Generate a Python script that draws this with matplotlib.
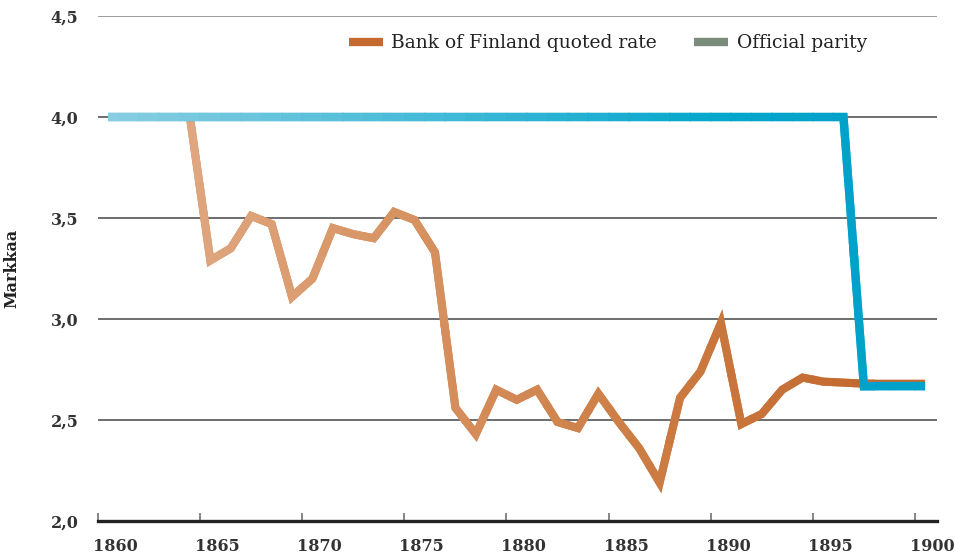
import numpy as np
import matplotlib
matplotlib.use("Agg")
import matplotlib.pyplot as plt
from matplotlib.collections import LineCollection
from matplotlib.lines import Line2D
from matplotlib.colors import to_rgb
from matplotlib.transforms import ScaledTranslation

# data (markkaa)
quoted_years = list(range(1864, 1901))
quoted_rate = [4.00, 3.29, 3.35, 3.51, 3.47, 3.11, 3.20, 3.45, 3.42, 3.40,
               3.53, 3.49, 3.33, 2.56, 2.43, 2.65, 2.60, 2.65, 2.49, 2.46,
               2.63, 2.49, 2.36, 2.19, 2.61, 2.74, 2.98, 2.48, 2.53, 2.65,
               2.71, 2.69, 2.685, 2.68, 2.68, 2.68, 2.68]

parity_years = list(range(1860, 1901))
parity = [4.0] * 37 + [2.667] * 4

x_ticks = list(range(1860, 1901, 5))
y_ticks = [2.0, 2.5, 3.0, 3.5, 4.0, 4.5]
y_labels = ["2,0", "2,5", "3,0", "3,5", "4,0", "4,5"]

plt.rcParams['font.family'] = ['DejaVu Serif']


def gradient_colors(xv, stops):
    sx = [s[0] for s in stops]
    cols = np.array([to_rgb(s[1]) for s in stops])
    return np.column_stack([np.interp(xv, sx, cols[:, i]) for i in range(3)])


def gradient_line(ax, xs, ys, stops, lw, z):
    # one short polyline per vertex, so corners keep proper joins
    xs = np.asarray(xs, float)
    ys = np.asarray(ys, float)
    n = len(xs)
    cols = gradient_colors(xs, stops)
    # plain underlay hides seams between the pieces
    ax.plot(xs, ys, color=cols.mean(axis=0), lw=lw, solid_joinstyle='miter',
            solid_capstyle='butt', zorder=z)
    segs = []
    for k in range(n):
        pts = []
        if k > 0:
            t = 0.46
            pts.append((xs[k - 1] + t * (xs[k] - xs[k - 1]), ys[k - 1] + t * (ys[k] - ys[k - 1])))
        pts.append((xs[k], ys[k]))
        if k < n - 1:
            t = 0.54
            pts.append((xs[k] + t * (xs[k + 1] - xs[k]), ys[k] + t * (ys[k + 1] - ys[k])))
        segs.append(pts)
    lc = LineCollection(segs, colors=cols, linewidths=lw, zorder=z + 0.5)
    lc.set_capstyle('butt')
    lc.set_joinstyle('miter')
    ax.add_collection(lc)


fig = plt.figure(figsize=(9.55, 5.56), dpi=100)
ax = fig.add_axes([98 / 955, 35 / 556, 839 / 955, 505 / 556])

# points sit in the middle of each year
qx = np.array(quoted_years) + 0.5
px = np.array(parity_years) + 0.5

gradient_line(ax, qx, quoted_rate,
              [(1864, '#dfa780'), (1876, '#d6915f'), (1887, '#cc7c43'), (1897, '#c46a30')],
              5.8, 3)
gradient_line(ax, px, parity,
              [(1860, '#8acee2'), (1878, '#3db8d6'), (1890, '#05a7cc'), (1897, '#00a2c9')],
              6.0, 4)

ax.set_xlim(1860, 1901.08)
ax.set_ylim(2.0, 4.5)

ax.set_yticks(y_ticks)
ax.set_yticklabels(y_labels)
ax.set_xticks(x_ticks)
ax.set_xticklabels([str(t) for t in x_ticks])

ax.yaxis.grid(True, color='#555555', linewidth=1.2, zorder=0)
ax.get_ygridlines()[-1].set_color('#8c8c8c')
ax.set_axisbelow(True)

for s in ['top', 'right', 'left']:
    ax.spines[s].set_visible(False)
ax.spines['bottom'].set_linewidth(2.4)
ax.spines['bottom'].set_color('#222222')
ax.spines['bottom'].set_zorder(5)

ax.tick_params(axis='y', length=0, pad=14, labelsize=11.5, labelcolor='#333333')
ax.tick_params(axis='x', direction='in', length=6, width=1.1, color='#666666',
               pad=12, labelsize=11.5, labelcolor='#333333')
for lab in ax.get_yticklabels() + ax.get_xticklabels():
    lab.set_fontweight('bold')
for lab in ax.get_xticklabels():
    lab.set_ha('left')
    lab.set_transform(lab.get_transform() + ScaledTranslation(-0.05, 0, fig.dpi_scale_trans))

ax.set_ylabel('Markkaa', fontsize=11.5, fontweight='bold', color='#222222', labelpad=22)

handles = [Line2D([], [], color='#c4692f', lw=6, solid_capstyle='butt'),
           Line2D([], [], color='#7a8c7b', lw=6, solid_capstyle='butt')]
ax.legend(handles, ['Bank of Finland quoted rate', 'Official parity'],
          ncol=2, frameon=False, loc='upper left', bbox_to_anchor=(0.279, 0.997),
          handlelength=1.8, handletextpad=0.45, columnspacing=2.0,
          prop={'size': 13.5}, labelcolor='#222222')

fig.savefig('out.png', dpi=100)
